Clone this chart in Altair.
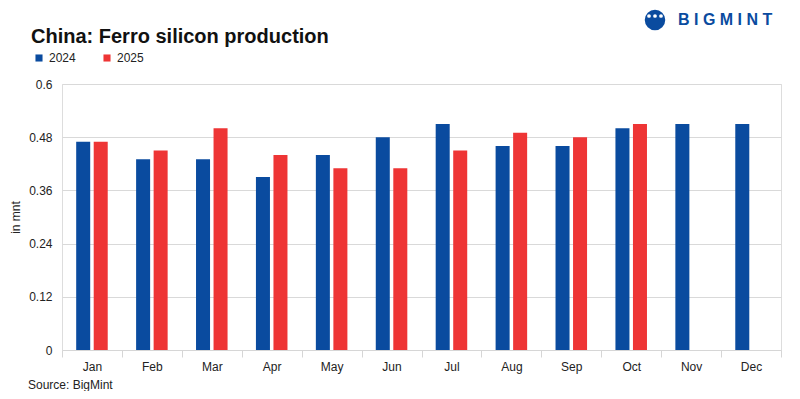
import altair as alt
import pandas as pd

months = ["Jan", "Feb", "Mar", "Apr", "May", "Jun", "Jul", "Aug", "Sep", "Oct", "Nov", "Dec"]
v2024 = [0.47, 0.43, 0.43, 0.39, 0.44, 0.48, 0.51, 0.46, 0.46, 0.50, 0.51, 0.51]
v2025 = [0.47, 0.45, 0.50, 0.44, 0.41, 0.41, 0.45, 0.49, 0.48, 0.51, None, None]
years = ["2024", "2025"]
colors = ["#0A4B9F", "#EE3535"]
y_ticks = [0, 0.12, 0.24, 0.36, 0.48, 0.6]

rows = []
for m, a, b in zip(months, v2024, v2025):
    rows.append({"month": m, "year": "2024", "value": a})
    if b is not None:
        rows.append({"month": m, "year": "2025", "value": b})
df = pd.DataFrame(rows)

FONT = "Liberation Sans"

bars = alt.Chart(df).mark_bar().encode(
    x=alt.X("month:N", sort=months, title=None,
            scale=alt.Scale(paddingInner=0, paddingOuter=0),
            axis=alt.Axis(labelAngle=0, tickBand="extent", domainColor="#d6d6d6",
                          tickColor="#d6d6d6", tickSize=7, labelPadding=4,
                          labelFontSize=12, labelColor="#222", labelFont=FONT)),
    xOffset=alt.XOffset("year:N", scale=alt.Scale(paddingInner=0.2, paddingOuter=0.81)),
    y=alt.Y("value:Q", title="in mnt",
            scale=alt.Scale(domain=[0, 0.6]),
            axis=alt.Axis(values=y_ticks, labelExpr="format(datum.value, '.2~f')",
                          domain=False, ticks=False, gridColor="#d9d9d9",
                          labelPadding=10, labelFontSize=12, labelColor="#222", labelFont=FONT,
                          titleFontSize=12, titleFontWeight="normal", titleColor="#222",
                          titleFont=FONT, titleX=-40, titleY=133, titleAngle=-90)),
    color=alt.Color("year:N", scale=alt.Scale(domain=years, range=colors),
                    legend=alt.Legend(title=None, orient="none", legendX=-29, legendY=-32,
                                      direction="horizontal", symbolType="square",
                                      symbolSize=50, symbolStrokeWidth=0, labelFontSize=12,
                                      labelFont=FONT, labelColor="#222", columnPadding=25,
                                      symbolOffset=0, labelOffset=4)),
)

title = alt.Chart(pd.DataFrame({"t": ["China: Ferro silicon production"]})).mark_text(
    align="left", baseline="alphabetic", fontSize=20, fontWeight="bold", font=FONT, color="#111"
).encode(x=alt.value(-31), y=alt.value(-41), text="t:N")

source = alt.Chart(pd.DataFrame({"t": ["Source: BigMint"]})).mark_text(
    align="left", baseline="alphabetic", fontSize=12, font=FONT, color="#222"
).encode(x=alt.value(-34), y=alt.value(305), text="t:N")

logo_text = alt.Chart(pd.DataFrame({"t": ["B I G M I N T"]})).mark_text(
    align="left", baseline="middle", fontSize=16, fontWeight="bold", font=FONT, color="#0A4B9F"
).encode(x=alt.value(616), y=alt.value(-64), text="t:N")

logo_circle = alt.Chart(pd.DataFrame({"t": [1]})).mark_point(
    filled=True, shape="circle", size=420, color="#0A4B9F", opacity=1
).encode(x=alt.value(593), y=alt.value(-64))

logo_heads = alt.Chart(pd.DataFrame({"dx": [587, 593, 599]})).mark_point(
    filled=True, shape="circle", size=14, color="white", opacity=1
).encode(x=alt.X("dx:Q", scale=None), y=alt.value(-68))

chart = alt.layer(bars, title, source, logo_text, logo_circle, logo_heads).properties(
    width=719, height=266,
    autosize=alt.AutoSizeParams(type="none"),
    padding={"left": 54, "top": 76, "right": 11, "bottom": 41},
).configure_view(stroke=None).configure(background="white")

chart.save("out.html", embed_options={"renderer": "svg", "actions": False})
